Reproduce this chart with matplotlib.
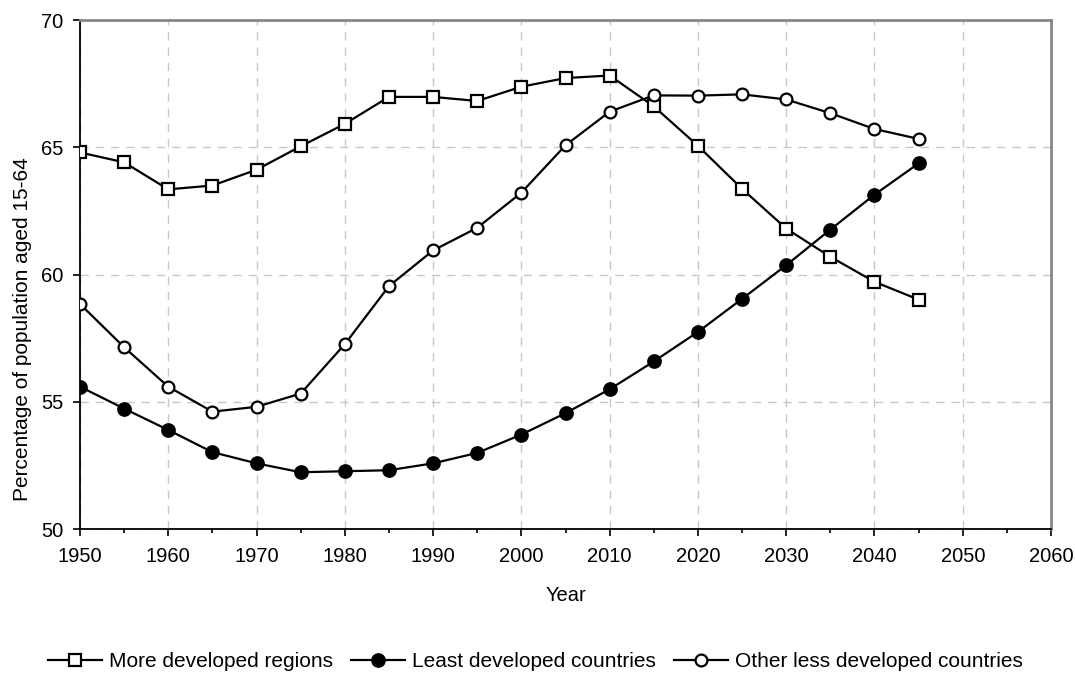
import matplotlib
matplotlib.use("Agg")
import matplotlib.pyplot as plt
from matplotlib.ticker import MultipleLocator

plt.rcParams['font.family'] = ['Liberation Sans', 'DejaVu Sans']

years = [1950, 1955, 1960, 1965, 1970, 1975, 1980, 1985, 1990, 1995,
         2000, 2005, 2010, 2015, 2020, 2025, 2030, 2035, 2040, 2045]

more_developed = [64.80, 64.41, 63.35, 63.50, 64.12, 65.04, 65.92, 66.98, 66.98, 66.82,
                  67.38, 67.72, 67.82, 66.61, 65.06, 63.37, 61.81, 60.70, 59.72, 59.02]
least_developed = [55.60, 54.74, 53.90, 53.03, 52.59, 52.24, 52.28, 52.32, 52.59, 53.00,
                   53.72, 54.56, 55.50, 56.59, 57.75, 59.05, 60.37, 61.77, 63.14, 64.37]
other_less_developed = [58.85, 57.15, 55.60, 54.62, 54.81, 55.33, 57.27, 59.55, 60.95, 61.84,
                        63.22, 65.08, 66.40, 67.04, 67.03, 67.08, 66.88, 66.34, 65.72, 65.33]

fig = plt.figure(figsize=(10.75, 6.85), dpi=100)
ax = fig.add_axes([0.0744, 0.2273, 0.9033, 0.7435])

ax.plot(years, more_developed, color='black', linewidth=1.6, marker='s', markersize=8.5,
        markerfacecolor='white', markeredgecolor='black', markeredgewidth=1.6,
        label='More developed regions', zorder=3)
ax.plot(years, least_developed, color='black', linewidth=1.6, marker='o', markersize=9,
        markerfacecolor='black', markeredgecolor='black', markeredgewidth=1.6,
        label='Least developed countries', zorder=3)
ax.plot(years, other_less_developed, color='black', linewidth=1.6, marker='o', markersize=8.5,
        markerfacecolor='white', markeredgecolor='black', markeredgewidth=1.6,
        label='Other less developed countries', zorder=3)

ax.set_xlim(1950, 2060)
ax.set_ylim(50, 70)
ax.xaxis.set_major_locator(MultipleLocator(10))
ax.xaxis.set_minor_locator(MultipleLocator(5))
ax.yaxis.set_major_locator(MultipleLocator(5))

ax.grid(True, which='major', linestyle=(0, (6, 5)), color='#c8c8c8', linewidth=1.0)
ax.set_axisbelow(True)

for side in ['left', 'bottom']:
    ax.spines[side].set_color('black')
    ax.spines[side].set_linewidth(1.3)
for side in ['top', 'right']:
    ax.spines[side].set_color('#888888')
    ax.spines[side].set_linewidth(2.0)

ax.tick_params(axis='both', which='major', direction='out', length=5, width=1.2,
               labelsize=14.5, colors='black')
ax.tick_params(axis='x', which='minor', direction='out', length=3, width=1.2)
ax.tick_params(axis='x', which='major', pad=8)
ax.tick_params(axis='y', which='major', pad=7)

ax.set_xlabel('Year', fontsize=14.5, labelpad=14)
ax.set_ylabel('Percentage of population aged 15-64', fontsize=15)
ax.yaxis.set_label_coords(-0.049, 0.393)

fig.legend(loc='center', bbox_to_anchor=(0.498, 0.034), ncol=3, frameon=False,
           fontsize=15, handlelength=2.6, handletextpad=0.3, columnspacing=0.9)

fig.savefig('out.png', dpi=100)
